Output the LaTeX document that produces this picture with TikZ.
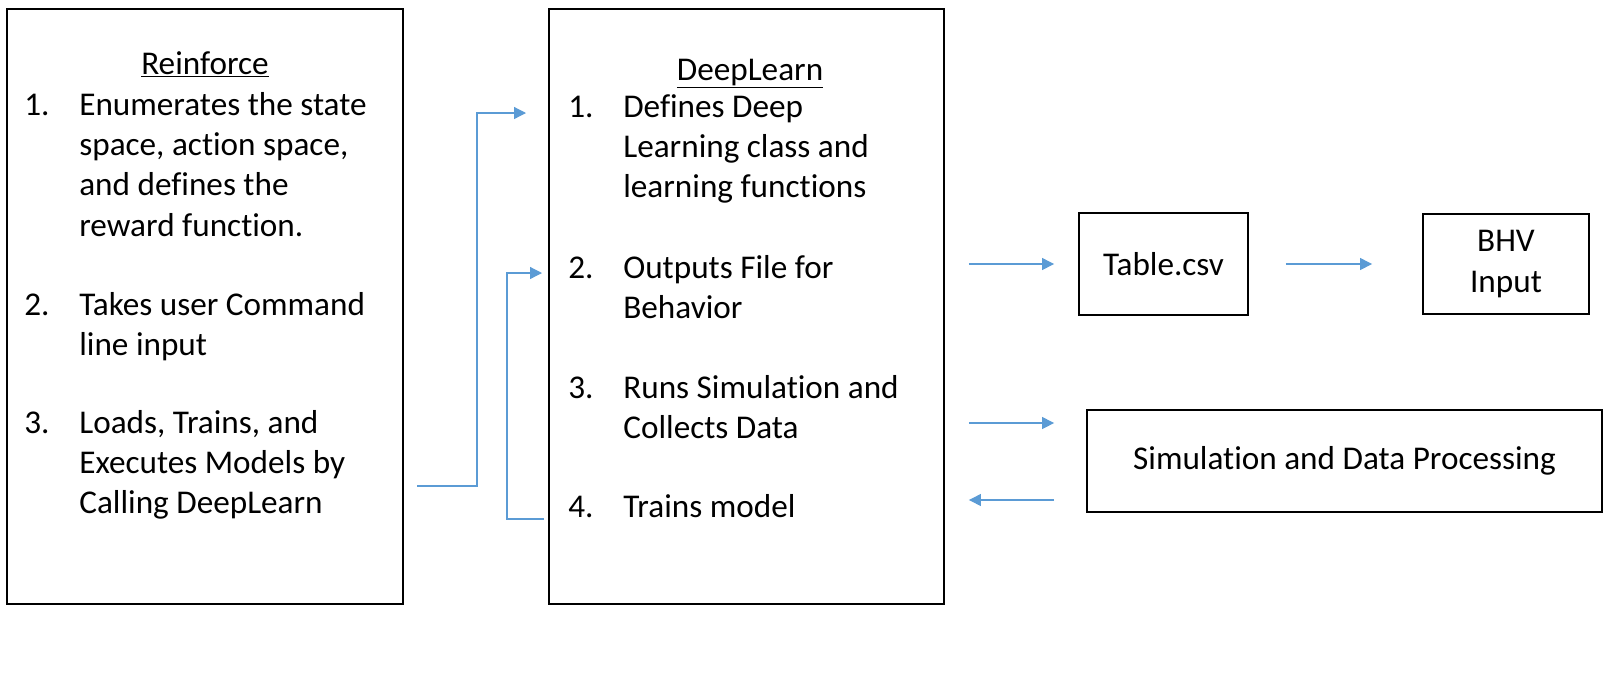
\documentclass[tikz,border=0pt]{standalone}
\usepackage{fontspec}
\setmainfont[Ligatures=NoCommon]{Carlito}
\usetikzlibrary{arrows.meta}
\definecolor{flowblue}{RGB}{91,155,213}
\newcommand{\steplist}[2]{\begin{tabular}[t]{@{}p{1.1cm}@{}l@{}}#1 & #2\end{tabular}}

\begin{document}
\begin{tikzpicture}[x=0.02cm, y=-0.02cm, font=\fontsize{18.9}{23}\selectfont]
\tikzset{box/.style={draw, line width=1.1pt, inner sep=0pt, align=center},
  item/.style={anchor=base west, inner sep=0pt},
  flow/.style={draw=flowblue, line width=0.7pt, -{Triangle[length=0.24cm, width=0.24cm]}}}

\useasboundingbox (0,0) rectangle (1605,674);

% Main boxes
\node[box, minimum width=7.92cm, minimum height=11.9cm] (reinforce) at (205,306.5) {};
\node[box, minimum width=7.9cm, minimum height=11.9cm] (deeplearn) at (746.5,306.5) {};

% Reinforce steps
\node[anchor=base] (rtitle) at (205,74) {\underline{Reinforce}};
\node[item] (r1) at (24,115) {\steplist{1.}{Enumerates the state\\ & space, action space,\\ & and defines the\\ & reward function.}};
\node[item] (r2) at (24,315) {\steplist{2.}{Takes user Command\\ & line input}};
\node[item] (r3) at (24,433) {\steplist{3.}{Loads, Trains, and\\ & Executes Models by\\ & Calling DeepLearn}};

% DeepLearn steps
\node[anchor=base] (dtitle) at (750,80) {\underline{DeepLearn}};
\node[item] (d1) at (568,117) {\steplist{1.}{Defines Deep\\ & Learning class and\\ & learning functions}};
\node[item] (d2) at (568,278) {\steplist{2.}{Outputs File for\\ & Behavior}};
\node[item] (d3) at (568,398) {\steplist{3.}{Runs Simulation and\\ & Collects Data}};
\node[item] (d4) at (568,517) {\steplist{4.}{Trains model}};

% Outputs
\node[box, minimum width=3.38cm, minimum height=2.04cm] (table) at (1163.5,264) {Table.csv};
\node[box, minimum width=3.32cm, minimum height=2cm] (bhv) at (1506,264) {BHV\\Input};
\node[box, minimum width=10.3cm, minimum height=2.04cm] (sim) at (1344.5,461) {Simulation and Data Processing};

% Connections
\coordinate (r3out) at (417,486);
\coordinate (d1in) at (526,113);
\coordinate (d4out) at (544,519);
\coordinate (d2in) at (542,273);
\draw[flow] (r3out) -- ++(60,0) |- (d1in);
\draw[flow] (d4out) -- ++(-37,0) |- (d2in);

\draw[flow, shorten <=0.48cm, shorten >=0.48cm] (deeplearn.east |- table.west) -- (table.west);
\draw[flow, shorten <=0.74cm, shorten >=1cm] (table.east) -- (bhv.west);
\draw[flow, shorten <=0.48cm, shorten >=0.64cm] ([yshift=0.76cm]deeplearn.east |- sim.west) -- ([yshift=0.76cm]sim.west);
\draw[flow, shorten <=0.64cm, shorten >=0.48cm] ([yshift=-0.78cm]sim.west) -- ([yshift=-0.78cm]deeplearn.east |- sim.west);

\end{tikzpicture}
\end{document}
